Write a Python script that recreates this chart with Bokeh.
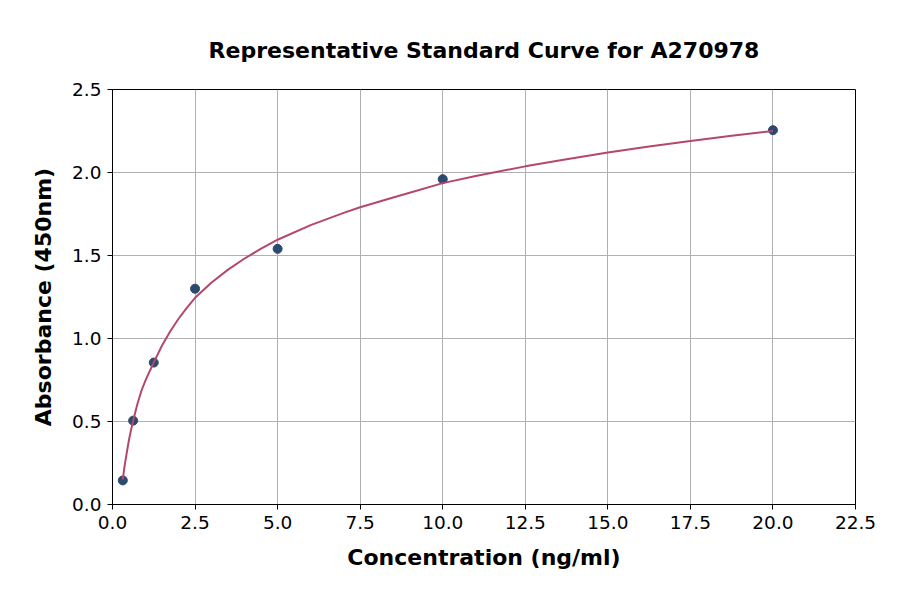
from bokeh.plotting import figure
from bokeh.embed import file_html
from bokeh.resources import INLINE
from bokeh.models import FixedTicker, PrintfTickFormatter, Range1d

# Standard points
conc = [0.3125, 0.625, 1.25, 2.5, 5.0, 10.0, 20.0]
absorb = [0.145, 0.505, 0.855, 1.30, 1.54, 1.96, 2.255]

# Fitted curve
curve_x = [0.3125, 0.35, 0.375, 0.43, 0.5, 0.56, 0.625, 0.75, 0.88, 1.0, 1.125,
           1.25, 1.5, 1.75, 2.0, 2.25, 2.5, 3.0, 3.5, 4.0, 4.5, 5.0, 6.0, 7.0,
           7.5, 8.5, 9.0, 10.0, 11.0, 12.5, 13.75, 15.0, 16.25, 17.5, 18.75, 20.0]
curve_y = [0.15, 0.208, 0.243, 0.31, 0.39, 0.447, 0.505, 0.602, 0.688, 0.748,
           0.803, 0.856, 0.958, 1.044, 1.119, 1.185, 1.245, 1.337, 1.415, 1.482,
           1.541, 1.595, 1.683, 1.757, 1.791, 1.849, 1.878, 1.936, 1.979, 2.037,
           2.080, 2.12, 2.156, 2.19, 2.221, 2.25]

x_ticks = [0.0, 2.5, 5.0, 7.5, 10.0, 12.5, 15.0, 17.5, 20.0, 22.5]
y_ticks = [0.0, 0.5, 1.0, 1.5, 2.0, 2.5]

title = "Representative Standard Curve for A270978"
x_label = "Concentration (ng/ml)"
y_label = "Absorbance (450nm)"

FONT = "DejaVu Sans"

p = figure(width=884, height=578, output_backend="svg", toolbar_location=None,
           x_range=Range1d(0, 22.5), y_range=Range1d(0, 2.5),
           min_border_left=112, min_border_right=29, min_border_top=89,
           min_border_bottom=74, title=title)

p.title.text_font = FONT
p.title.text_font_size = "22px"
p.title.text_font_style = "bold"
p.title.text_color = "black"
p.title.align = "center"
p.title.standoff = 53

p.outline_line_color = "black"
p.outline_line_width = 1
p.background_fill_color = "white"
p.border_fill_color = "white"

for ax in (p.xaxis[0], p.yaxis[0]):
    ax.axis_label_text_font = FONT
    ax.axis_label_text_font_size = "22px"
    ax.axis_label_text_font_style = "bold"
    ax.axis_label_text_color = "black"
    ax.major_label_text_font = FONT
    ax.major_label_text_font_size = "18.5px"
    ax.major_label_text_color = "black"
    ax.minor_tick_line_color = None
    ax.major_tick_out = 5
    ax.major_tick_in = 0
    ax.axis_line_color = "black"
    ax.major_tick_line_color = "black"
    ax.formatter = PrintfTickFormatter(format="%.1f")

p.xaxis[0].ticker = FixedTicker(ticks=x_ticks)
p.yaxis[0].ticker = FixedTicker(ticks=y_ticks)
p.xaxis[0].axis_label = x_label
p.yaxis[0].axis_label = y_label
p.xaxis[0].axis_label_standoff = 13
p.yaxis[0].axis_label_standoff = 13
p.xaxis[0].major_label_standoff = 6
p.yaxis[0].major_label_standoff = 6

p.grid.grid_line_color = "#b0b0b0"
p.grid.grid_line_width = 1

p.scatter(conc, absorb, size=9, fill_color="#2b4a6e", line_color="#2b4a6e")
p.line(curve_x, curve_y, line_color="#b5476b", line_width=2)

open("out.html", "w").write(file_html(p, INLINE))
